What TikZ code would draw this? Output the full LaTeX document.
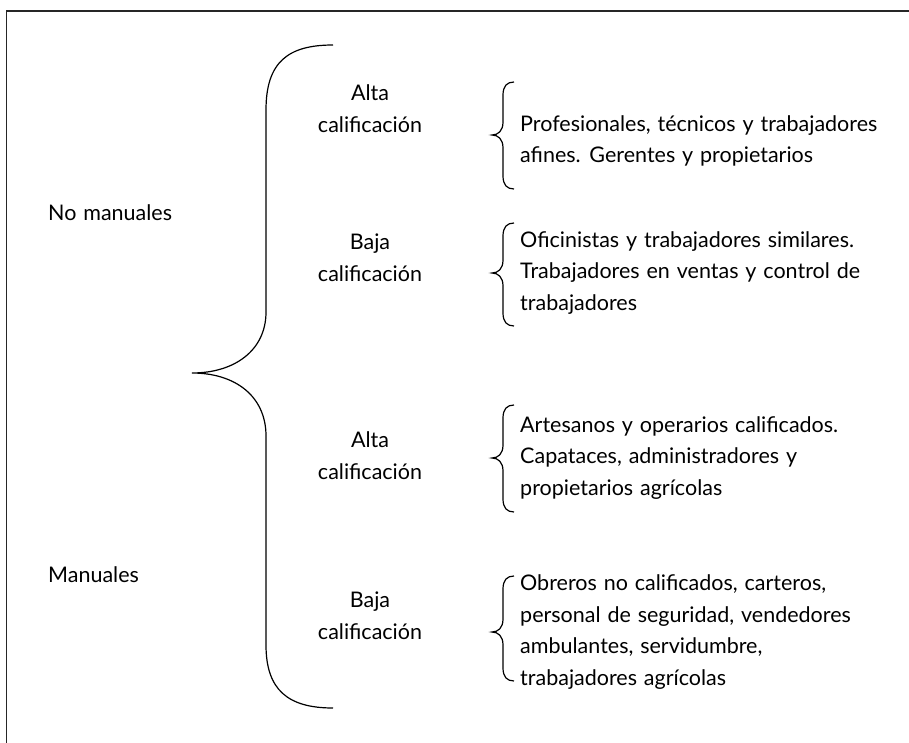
\documentclass[tikz,border=0pt]{standalone}
\usepackage{fontspec}
\setmainfont[WordSpace={1.25}]{Lato}
\newcommand\smallbrace[3]{%
  \draw[brace] (514,#1) .. controls (507,#1) and (503,#1+4) .. (503,#1+13)
    -- (503,#2-13) .. controls (503,#2-4) and (498,#2) .. (492,#2)
    .. controls (498,#2) and (503,#2+4) .. (503,#2+13)
    -- (503,#3-13) .. controls (503,#3-4) and (507,#3) .. (514,#3);}
\begin{document}
\begin{tikzpicture}[x=1pt,y=-1pt,
  brace/.style={line width=1.2pt, black},
  frameline/.style={line width=1.6pt, black!85},
  lbl/.style={font=\fontsize{21.5}{31.7}\selectfont, inner sep=0pt}]
\useasboundingbox (0,0) rectangle (909,743);
\draw[frameline] (6.5,743) -- (6.5,11) -- (909,11);
% big brace
\draw[brace] (333,45) .. controls (288,45) and (266,62) .. (266,110)
  -- (266,312) .. controls (266,350) and (235,373) .. (192,373)
  .. controls (235,373) and (266,396) .. (266,436)
  -- (266,645) .. controls (266,690) and (288,708) .. (333,708);
% small braces
\smallbrace{82}{135}{189}
\smallbrace{223}{273}{326}
\smallbrace{405}{458}{512}
\smallbrace{576}{632}{681}
% labels
\node[lbl, anchor=west] (nm) at (48,213) {No manuales};
\node[lbl, anchor=west] (m) at (48,575) {Manuales};
\node[lbl, align=center] (a1) at (370,109) {Alta\\calificación};
\node[lbl, align=center] (b1) at (370,258) {Baja\\calificación};
\node[lbl, align=center] (a2) at (370,456) {Alta\\calificación};
\node[lbl, align=center] (b2) at (370,616) {Baja\\calificación};
\node[lbl, align=left, anchor=west] (t1) at (520,141) {Profesionales, técnicos y trabajadores\\afines. Gerentes y propietarios};
\node[lbl, align=left, anchor=west] (t2) at (520,273) {Oficinistas y trabajadores similares.\\Trabajadores en ventas y control de\\trabajadores};
\node[lbl, align=left, anchor=west] (t3) at (520,458) {Artesanos y operarios calificados.\\Capataces, administradores y\\propietarios agrícolas};
\node[lbl, align=left, anchor=west] (t4) at (520,632) {Obreros no calificados, carteros,\\personal de seguridad, vendedores\\ambulantes, servidumbre,\\trabajadores agrícolas};
\end{tikzpicture}
\end{document}
